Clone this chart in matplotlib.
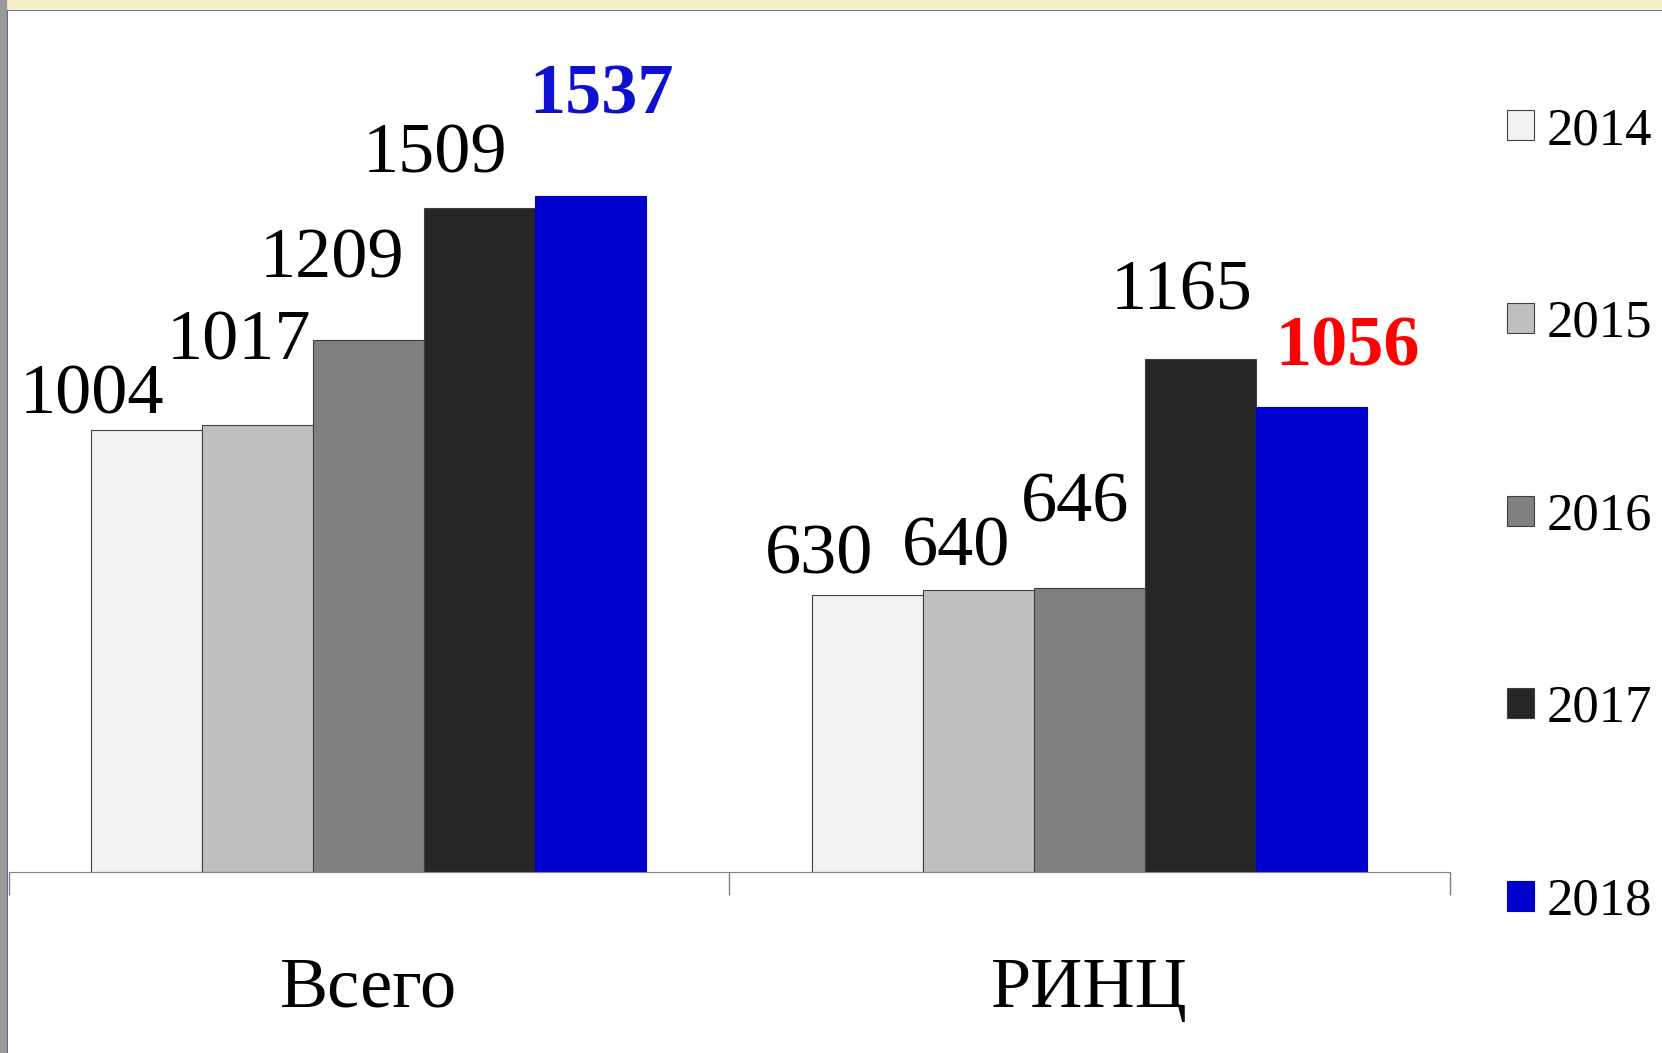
import matplotlib.pyplot as plt
from matplotlib.patches import Rectangle

categories = ['Всего', 'РИНЦ']
years = ['2014', '2015', '2016', '2017', '2018']
values = {
    '2014': [1004, 630],
    '2015': [1017, 640],
    '2016': [1209, 646],
    '2017': [1509, 1165],
    '2018': [1537, 1056],
}
colors = ['#f2f2f2', '#bfbfbf', '#808080', '#262626', '#0000cc']

# label nudges in pixels (dx, dy) per year, per category
label_offsets = {
    '2014': [(-55, 17), (-49, 21)],
    '2015': [(-19, 65), (-23, 25)],
    '2016': [(-37, 63), (-15, 66)],
    '2017': [(-45, 36), (-19, 50)],
    '2018': [(11, 82), (36, 42)],
}
# highlighted labels: (year, category index) -> color
highlight = {('2018', 0): '#1010d0', ('2018', 1): '#ff0000'}

plt.rcParams['font.family'] = ['Liberation Serif', 'DejaVu Serif']

fig = plt.figure(figsize=(16.62, 10.53), dpi=100)
ax = fig.add_axes([8.5 / 1662, 1 - 872 / 1053, (1450 - 8.5) / 1662, (872 - 30) / 1053])

width = 0.154
for i, year in enumerate(years):
    xs = [c + (i - 2) * width for c in range(len(categories))]
    ec = colors[i] if year == '2018' else '#404040'
    bars = ax.bar(xs, values[year], width=width, color=colors[i], edgecolor=ec,
                  linewidth=0.8, label=year)
    for j, b in enumerate(bars):
        col = highlight.get((year, j), 'black')
        weight = 'bold' if (year, j) in highlight else 'normal'
        ax.annotate(str(values[year][j]), (b.get_x() + b.get_width() / 2, b.get_height()),
                    xytext=label_offsets[year][j], textcoords='offset pixels',
                    ha='center', va='baseline', fontsize=52, color=col, fontweight=weight)

ax.set_xlim(-0.5, 1.5)
ax.set_ylim(0, 842 / 0.44)
ax.set_yticks([])
for s in ['top', 'left', 'right']:
    ax.spines[s].set_visible(False)
ax.spines['bottom'].set_color('#808080')
ax.set_xticks([0, 1])
ax.set_xticklabels(categories, fontsize=52)
ax.tick_params(axis='x', which='major', length=0, pad=61)
ax.set_xticks([-0.5, 0.5, 1.5], minor=True)
ax.tick_params(axis='x', which='minor', length=16.5, color='#808080', width=1)

fig.legend(loc='upper left', bbox_to_anchor=(1486 / 1662, 1 - 86 / 1053), frameon=False,
           fontsize=38, handlelength=0.5, handleheight=0.5, handletextpad=0.25,
           labelspacing=2.74, borderaxespad=0)

# slide frame bits
fig.patches.append(Rectangle((0, 1 - 9 / 1053), 1, 9 / 1053, transform=fig.transFigure,
                             color='#f6f1c4', zorder=5))
fig.patches.append(Rectangle((0, 0), 6 / 1662, 1, transform=fig.transFigure,
                             color='#9a9a9a', zorder=5))
fig.add_artist(plt.Line2D([7 / 1662, 7 / 1662], [0, 1 - 9 / 1053], transform=fig.transFigure,
                          color='#2030c0', lw=1.2))
fig.add_artist(plt.Line2D([7 / 1662, 1], [1 - 10 / 1053, 1 - 10 / 1053], transform=fig.transFigure,
                          color='#2030c0', lw=1.2))

fig.savefig('out.png', dpi=100)
